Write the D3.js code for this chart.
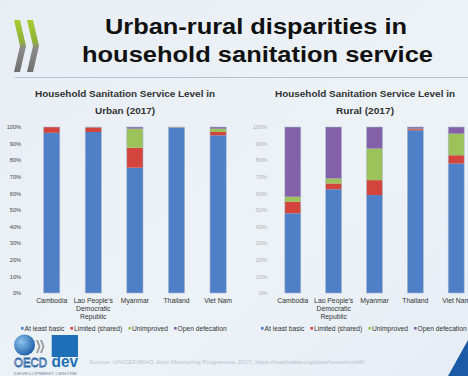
<!DOCTYPE html>
<html><head><meta charset="utf-8">
<script src="https://cdn.jsdelivr.net/npm/d3@7"></script>
<style>body{margin:0;overflow:hidden}svg{display:block}text{font-family:"Liberation Sans",Arial,sans-serif}</style>
</head><body><svg id="c" width="468" height="376"></svg>
<script>
const categories = ["Cambodia", "Lao People's Democratic Republic", "Myanmar", "Thailand", "Viet Nam"];
const categoryLines = [["Cambodia"], ["Lao People's", "Democratic", "Republic"], ["Myanmar"], ["Thailand"], ["Viet Nam"]];
const series = ["At least basic", "Limited (shared)", "Unimproved", "Open defecation"];
const urbanBasic = [96.5, 97, 75.5, 99.6, 95];
const urbanLimited = [3.5, 2.8, 12, 0.2, 2];
const urbanUnimproved = [0, 0.1, 11.5, 0.1, 2];
const urbanOpen = [0, 0.1, 1, 0.1, 1];
const ruralBasic = [48, 62.5, 59, 98, 78];
const ruralLimited = [7, 3.5, 9, 0.7, 5];
const ruralUnimproved = [3, 3, 19, 0.3, 13];
const ruralOpen = [42, 31, 13, 1, 4];
const yTicks = [0, 10, 20, 30, 40, 50, 60, 70, 80, 90, 100];
const colors = ["#4f7fc6", "#d3443d", "#9cc25a", "#8460a8"];

const svg = d3.select("#c");
const defs = svg.append("defs");
const bg = defs.append("linearGradient").attr("id","bg").attr("x1",0).attr("y1",0).attr("x2",1).attr("y2",1);
bg.append("stop").attr("offset",0).attr("stop-color","#e8eef4");
bg.append("stop").attr("offset",0.6).attr("stop-color","#edf2f7");
bg.append("stop").attr("offset",1).attr("stop-color","#e6edf4");
svg.append("rect").attr("width",468).attr("height",376).attr("fill","url(#bg)");

// OECD chevrons
const cg = defs.append("linearGradient").attr("id","chev").attr("x1",0).attr("y1",0).attr("x2",0).attr("y2",1);
cg.append("stop").attr("offset",0).attr("stop-color","#a6cc2e");
cg.append("stop").attr("offset",0.42).attr("stop-color","#8fb03a");
cg.append("stop").attr("offset",0.55).attr("stop-color","#8a8a8a");
cg.append("stop").attr("offset",1).attr("stop-color","#707070");
[14, 27].forEach(x=>{
  svg.append("path").attr("d",`M${x},20 L${x+6},20 L${x+12},46 L${x+6},72 L${x},72 L${x+6},46 Z`).attr("fill","url(#chev)");
});

// Title
svg.append("text").attr("x",256).attr("y",34).attr("text-anchor","middle").attr("font-size",22).attr("font-weight","bold").attr("fill","#111")
  .attr("textLength",302).attr("lengthAdjust","spacingAndGlyphs").text("Urban-rural disparities in");
svg.append("text").attr("x",257.5).attr("y",62).attr("text-anchor","middle").attr("font-size",22).attr("font-weight","bold").attr("fill","#111")
  .attr("textLength",351).attr("lengthAdjust","spacingAndGlyphs").text("household sanitation service");
svg.append("line").attr("x1",15).attr("x2",468).attr("y1",77.5).attr("y2",77.5).attr("stroke","#b9c0c8").attr("stroke-width",1);

function drawChart(cfg){
  const g = svg.append("g");
  const x = d3.scaleBand().domain(categories).range([cfg.x0, cfg.x1]).paddingInner(0.61).paddingOuter(0.305);
  const y = d3.scaleLinear().domain([0,100]).range([293,127]);
  const rows = categories.map((c,i)=>({cat:c, v:[cfg.data[0][i],cfg.data[1][i],cfg.data[2][i],cfg.data[3][i]]}));
  const stack = d3.stack().keys([0,1,2,3]).value((d,k)=>d.v[k]);
  const layers = stack(rows);
  layers.forEach((layer,k)=>{
    g.selectAll(null).data(layer).enter().append("rect")
      .attr("x",d=>x(d.data.cat)).attr("width",x.bandwidth())
      .attr("y",d=>y(d[1])).attr("height",d=>Math.max(0,y(d[0])-y(d[1])))
      .attr("fill",colors[k]);
  });
  g.selectAll(null).data(rows).enter().append("rect")
    .attr("x",d=>x(d.cat)).attr("width",x.bandwidth()).attr("y",y(100)).attr("height",y(0)-y(100))
    .attr("fill","none").attr("stroke","#a9b8cc").attr("stroke-width",0.6);
  const ax = d3.axisLeft(y).tickValues(yTicks).tickFormat(d=>d+"%").tickSize(0).tickPadding(0);
  const ag = g.append("g").attr("transform",`translate(${cfg.yLab},0)`).call(ax);
  ag.select(".domain").remove();
  ag.selectAll("text").attr("font-size",5.6).attr("fill",cfg.yColor).attr("font-family","Liberation Sans, Arial");
  const xg = g.append("g");
  categories.forEach((c,i)=>{
    const t = xg.append("text").attr("x",x(c)+x.bandwidth()/2).attr("y",303).attr("text-anchor","middle").attr("font-size",6.8).attr("fill","#333");
    categoryLines[i].forEach((l,j)=>t.append("tspan").attr("x",x(c)+x.bandwidth()/2).attr("dy",j?8:0).text(l));
  });
  g.append("text").attr("x",cfg.cx).attr("y",96.5).attr("text-anchor","middle").attr("font-size",8.8).attr("font-weight","bold").attr("fill","#333")
    .attr("textLength",180).attr("lengthAdjust","spacingAndGlyphs").text("Household Sanitation Service Level in");
  g.append("text").attr("x",cfg.cx).attr("y",114).attr("text-anchor","middle").attr("font-size",8.8).attr("font-weight","bold").attr("fill","#333")
    .attr("textLength",cfg.subLen).attr("lengthAdjust","spacingAndGlyphs").text(cfg.sub);
  const lg = g.append("g");
  let lx = cfg.legX;
  series.forEach((s,k)=>{
    lg.append("rect").attr("x",lx).attr("y",327).attr("width",2.6).attr("height",2.6).attr("fill",colors[k]);
    const t = lg.append("text").attr("x",lx+3.6).attr("y",330.8).attr("font-size",6.7).attr("fill","#333").text(s);
    lx += 3.6 + t.node().getComputedTextLength() + cfg.legGap;
  });
}

drawChart({x0:30.9, x1:238.9, yLab:21, yColor:"#444", cx:125, sub:"Urban (2017)", subLen:60, legX:21, legGap:6,
  data:[urbanBasic, urbanLimited, urbanUnimproved, urbanOpen]});
drawChart({x0:272.4, x1:476.6, yLab:267, yColor:"#b0b0b0", cx:365, sub:"Rural (2017)", subLen:58, legX:261, legGap:6,
  data:[ruralBasic, ruralLimited, ruralUnimproved, ruralOpen]});

// Footer logos
const gl = defs.append("radialGradient").attr("id","globe").attr("cx",0.35).attr("cy",0.35).attr("r",0.7);
gl.append("stop").attr("offset",0).attr("stop-color","#8fc4ee");
gl.append("stop").attr("offset",1).attr("stop-color","#1d5fa8");
svg.append("circle").attr("cx",24.5).attr("cy",345).attr("r",10.5).attr("fill","url(#globe)");
[36, 40].forEach(xx=>{
  svg.append("path").attr("d",`M${xx},340 L${xx+2},340 L${xx+4.5},346.5 L${xx+2},353 L${xx},353 L${xx+2.5},346.5 Z`).attr("fill","#9a9a9a");
});
svg.append("text").attr("x",14).attr("y",367).attr("font-size",12.5).attr("fill","#ffffff").attr("stroke","#2d66a8").attr("stroke-width",0.8)
  .attr("textLength",33).attr("lengthAdjust","spacingAndGlyphs").text("OECD");
svg.append("text").attr("x",14).attr("y",374.5).attr("font-size",3.6).attr("fill","#7a8aa0")
  .attr("textLength",63).attr("lengthAdjust","spacingAndGlyphs").text("DEVELOPMENT CENTRE");
svg.append("rect").attr("x",51.7).attr("y",335).attr("width",26.3).attr("height",22).attr("fill","#1f6fb8");
svg.append("text").attr("x",51.5).attr("y",367).attr("font-size",16).attr("font-weight","bold").attr("fill","#1f6fb8")
  .attr("textLength",26.5).attr("lengthAdjust","spacingAndGlyphs").text("dev");
svg.append("text").attr("x",89).attr("y",364).attr("font-size",6).attr("fill","#bcc2c9")
  .attr("textLength",276).attr("lengthAdjust","spacingAndGlyphs").text("Source: UNICEF/WHO Joint Monitoring Programme 2017, https://washdata.org/data/household#!/");
svg.append("path").attr("d","M468,340 L468,376 L448,376 Z").attr("fill","#1a5aa6");
</script></body></html>
